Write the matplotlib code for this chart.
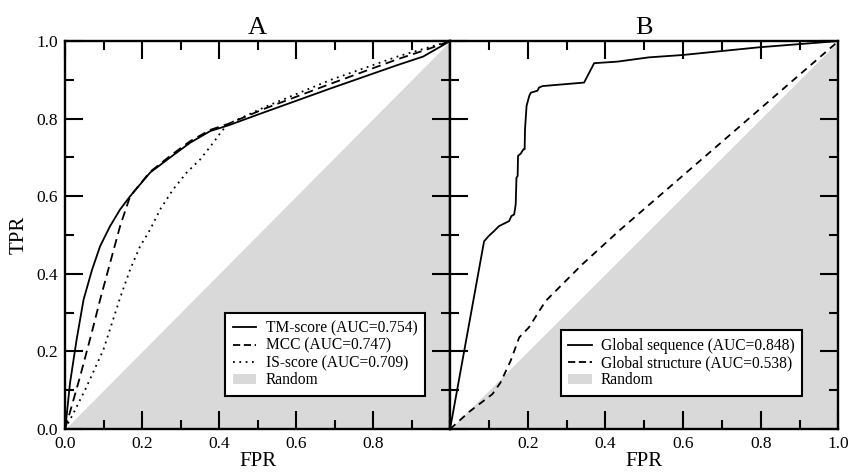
import matplotlib
matplotlib.use("Agg")
import matplotlib.pyplot as plt
from matplotlib.patches import Patch
from matplotlib.lines import Line2D

plt.rcParams['font.family'] = ['Liberation Serif', 'DejaVu Serif']

# Panel A data
tm_fpr = [0.0, 0.003, 0.013, 0.03, 0.048, 0.07, 0.091, 0.117, 0.143, 0.169, 0.221, 0.273, 0.325, 0.377, 0.425, 0.519, 0.69, 0.863, 0.93, 0.974, 1.0]
tm_tpr = [0.0, 0.023, 0.119, 0.23, 0.333, 0.41, 0.471, 0.523, 0.566, 0.60, 0.661, 0.70, 0.738, 0.768, 0.783, 0.817, 0.878, 0.938, 0.96, 0.985, 1.0]

mcc_fpr = [0.0, 0.017, 0.039, 0.069, 0.091, 0.117, 0.143, 0.169, 0.221, 0.273, 0.325, 0.377, 0.425, 0.519, 0.69, 0.863, 0.948, 1.0]
mcc_tpr = [0.0, 0.058, 0.135, 0.247, 0.333, 0.428, 0.523, 0.60, 0.663, 0.704, 0.742, 0.771, 0.787, 0.826, 0.89, 0.953, 0.981, 1.0]

is_fpr = [0.0, 0.022, 0.056, 0.0995, 0.143, 0.169, 0.195, 0.221, 0.247, 0.281, 0.316, 0.351, 0.385, 0.407, 0.425, 0.519, 0.69, 0.863, 0.966, 1.0]
is_tpr = [0.0, 0.041, 0.109, 0.204, 0.338, 0.411, 0.471, 0.514, 0.566, 0.618, 0.661, 0.695, 0.738, 0.768, 0.787, 0.83, 0.9, 0.96, 0.99, 1.0]

# Panel B data
seq_fpr = [0.0, 0.0876, 0.1, 0.113, 0.126, 0.152, 0.158, 0.165, 0.169, 0.171, 0.174, 0.175, 0.182, 0.189, 0.192,
           0.193, 0.197, 0.204, 0.208, 0.225, 0.229, 0.238, 0.345, 0.371, 0.431, 0.512, 0.598, 0.796, 1.0]
seq_tpr = [0.0, 0.484, 0.498, 0.51, 0.523, 0.536, 0.549, 0.553, 0.579, 0.648, 0.652, 0.704, 0.710, 0.721, 0.721,
           0.773, 0.833, 0.859, 0.867, 0.872, 0.880, 0.884, 0.893, 0.943, 0.947, 0.958, 0.964, 0.984, 1.0]

struct_fpr = [0.0, 0.05, 0.109, 0.13, 0.156, 0.178, 0.203, 0.246, 0.298, 0.341, 0.435, 1.0]
struct_tpr = [0.0, 0.045, 0.09, 0.12, 0.176, 0.236, 0.262, 0.33, 0.382, 0.425, 0.511, 1.0]

labels_A = ['TM-score (AUC=0.754)', 'MCC (AUC=0.747)', 'IS-score (AUC=0.709)', 'Random']
labels_B = ['Global sequence (AUC=0.848)', 'Global structure (AUC=0.538)', 'Random']

xticks_A = [0.0, 0.2, 0.4, 0.6, 0.8]
xticks_B = [0.2, 0.4, 0.6, 0.8, 1.0]
yticks = [0.0, 0.2, 0.4, 0.6, 0.8, 1.0]

fig = plt.figure(figsize=(8.49, 4.72), dpi=100)
axA = fig.add_axes([0.0766, 0.091, 0.4535, 0.822])
axB = fig.add_axes([0.5301, 0.091, 0.4575, 0.822])

gray = '#d9d9d9'
lw = 1.3

def style(ax, xt):
    ax.set_xlim(0, 1)
    ax.set_ylim(0, 1)
    ax.fill_between([0, 1], [0, 0], [0, 1], color=gray, lw=0, zorder=0)
    ax.set_xticks(xt)
    ax.set_xticklabels([f'{v:.1f}' for v in xt])
    ax.set_yticks(yticks)
    ax.set_yticks([0.1, 0.3, 0.5, 0.7, 0.9], minor=True)
    ax.tick_params(which='major', direction='in', length=13, width=1.5, top=True, right=True, labelsize=12.5, pad=5)
    ax.tick_params(which='minor', direction='in', length=6.5, width=1.5, top=True, right=True)
    for s in ax.spines.values():
        s.set_linewidth(1.7)
    ax.set_xlabel('FPR', fontsize=15, labelpad=0)

style(axA, xticks_A)
style(axB, xticks_B)
axA.set_xticks([0.1, 0.3, 0.5, 0.7, 0.9, 1.0], minor=True)
axB.set_xticks([0.0, 0.1, 0.3, 0.5, 0.7, 0.9], minor=True)
axB.set_yticklabels([])
axA.set_yticklabels([f'{v:.1f}' for v in yticks])
axA.set_ylabel('TPR', fontsize=15, labelpad=6)

axA.plot(tm_fpr, tm_tpr, color='black', lw=lw, ls='-')
axA.plot(mcc_fpr, mcc_tpr, color='black', lw=lw, ls=(0, (5, 3)))
axA.plot(is_fpr, is_tpr, color='black', lw=lw, ls=(0, (1, 2.5)))

axB.plot(seq_fpr, seq_tpr, color='black', lw=lw, ls='-')
axB.plot(struct_fpr, struct_tpr, color='black', lw=lw, ls=(0, (4, 3)))

axA.set_title('A', fontsize=19, pad=5)
axB.set_title('B', fontsize=19, pad=5)

hA = [Line2D([], [], color='black', lw=lw, ls='-'),
      Line2D([], [], color='black', lw=lw, ls=(0, (4, 2))),
      Line2D([], [], color='black', lw=lw, ls=(0, (1, 2.5))),
      Patch(facecolor=gray, edgecolor='none')]
hB = [Line2D([], [], color='black', lw=lw, ls='-'),
      Line2D([], [], color='black', lw=lw, ls=(0, (4, 2))),
      Patch(facecolor=gray, edgecolor='none')]

for ax, h, lab, anchor in [(axA, hA, labels_A, (0.935, 0.085)), (axB, hB, labels_B, (0.907, 0.085))]:
    leg = ax.legend(h, lab, loc='lower right', bbox_to_anchor=anchor, fontsize=11.2,
                    fancybox=False, framealpha=1, edgecolor='black', borderaxespad=0,
                    handlelength=1.5, handleheight=0.6, labelspacing=0.08, borderpad=0.5, handletextpad=0.6)
    leg.get_frame().set_linewidth(1.5)

fig.savefig('out.png', dpi=100)
